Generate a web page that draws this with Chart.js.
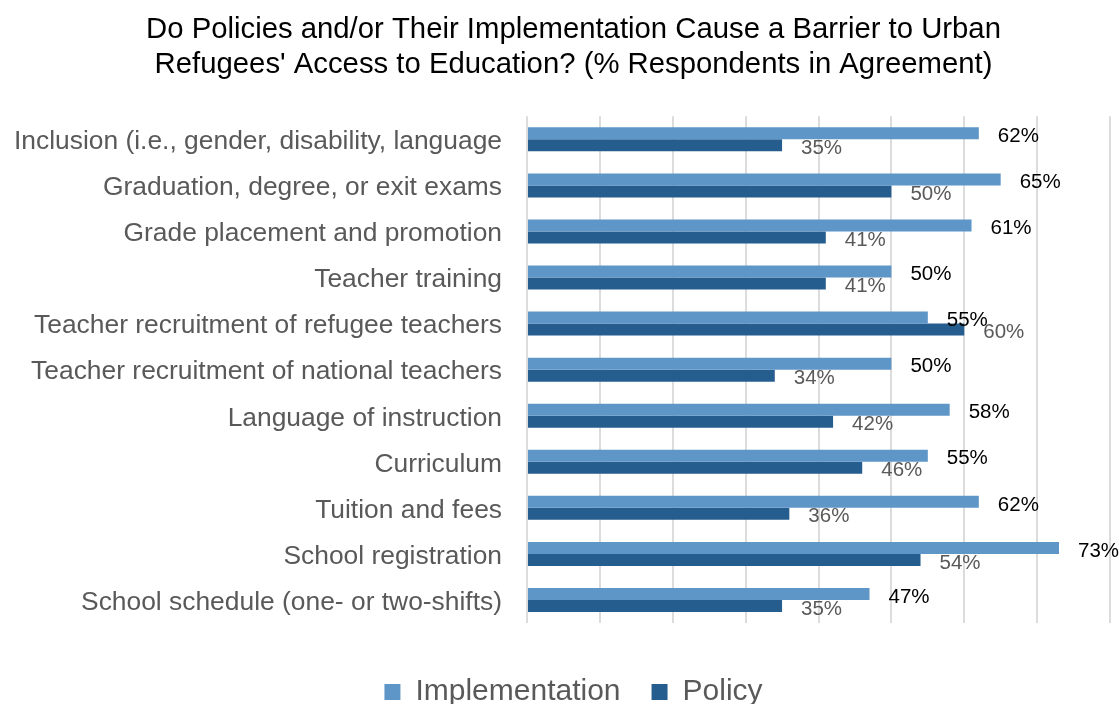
<!DOCTYPE html>
<html>
<head>
<meta charset="utf-8">
<script src="https://cdn.jsdelivr.net/npm/chart.js@4/dist/chart.umd.min.js"></script>
<style>
  html, body { margin: 0; padding: 0; background: #fff; }
  #wrap { width: 1119px; height: 704px; }
</style>
</head>
<body>
<div id="wrap"><canvas id="barrierChart"></canvas></div>
<script>
const categories = [
    'Inclusion (i.e., gender, disability, language',
    'Graduation, degree, or exit exams',
    'Grade placement and promotion',
    'Teacher training',
    'Teacher recruitment of refugee teachers',
    'Teacher recruitment of national teachers',
    'Language of instruction',
    'Curriculum',
    'Tuition and fees',
    'School registration',
    'School schedule (one- or two-shifts)'
];
const implementation = [62, 65, 61, 50, 55, 50, 58, 55, 62, 73, 47];
const policy = [35, 50, 41, 41, 60, 34, 42, 46, 36, 54, 35];
const xTicks = [0, 10, 20, 30, 40, 50, 60, 70, 80];

const FONT = '"Liberation Sans", Arial, Helvetica, sans-serif';

// value labels just past the end of each bar
const barLabels = {
    id: 'barLabels',
    afterDatasetsDraw(chart) {
        const ctx = chart.ctx;
        ctx.save();
        ctx.font = '20.5px ' + FONT;
        ctx.textAlign = 'left';
        ctx.textBaseline = 'middle';
        chart.data.datasets.forEach(function(ds, i) {
            const meta = chart.getDatasetMeta(i);
            ctx.fillStyle = ds.labelColor;
            meta.data.forEach(function(bar, j) {
                ctx.fillText(ds.data[j] + '%', bar.x + 19, bar.y + 3);
            });
        });
        ctx.restore();
    }
};

// long category names run past the left padding; let the y axis labels use the full width
const wideLabels = {
    id: 'wideLabels',
    afterLayout(chart) {
        chart.scales.y.left = 0;
    }
};

const ctx = document.getElementById('barrierChart').getContext('2d');
const chart = new Chart(ctx, {
    type: 'bar',
    data: {
        labels: categories,
        datasets: [{
            label: 'Implementation',
            data: implementation,
            backgroundColor: '#5f96c8',
            labelColor: '#000000',
            borderWidth: 0
        },
        {
            label: 'Policy',
            data: policy,
            backgroundColor: '#265d8f',
            labelColor: '#595959',
            borderWidth: 0
        }]
    },
    options: {
        indexAxis: 'y',
        responsive: true,
        maintainAspectRatio: false,
        animation: false,
        layout: {
            padding: { left: 37, right: 9, top: 0, bottom: -13 }
        },
        datasets: {
            bar: { categoryPercentage: 0.52, barPercentage: 1 }
        },
        plugins: {
            title: {
                display: true,
                text: ['Do Policies and/or Their Implementation Cause a Barrier to Urban',
                       "Refugees' Access to Education? (% Respondents in Agreement)"],
                color: '#000000',
                font: { family: FONT, size: 29.3, weight: 'normal', lineHeight: 1.2 },
                padding: { top: 12, bottom: 34 }
            },
            legend: {
                position: 'bottom',
                labels: {
                    color: '#595959',
                    font: { family: FONT, size: 30 },
                    boxWidth: 16,
                    boxHeight: 16,
                    padding: 31
                }
            },
            tooltip: { enabled: false }
        },
        scales: {
            x: {
                min: 0,
                max: 80,
                afterBuildTicks: function(scale) {
                    scale.ticks = xTicks.map(function(v) { return { value: v }; });
                },
                afterFit: function(scale) { scale.height = 23; },
                ticks: { display: false },
                grid: { color: '#dcdcdc', lineWidth: 2, drawTicks: false },
                border: { display: false }
            },
            y: {
                afterFit: function(scale) { scale.width = 490; },
                ticks: {
                    color: '#595959',
                    font: { family: FONT, size: 26.4 },
                    padding: 25,
                    labelOffset: 2.5
                },
                grid: { display: false, drawTicks: false },
                border: { display: false }
            }
        }
    },
    plugins: [barLabels, wideLabels]
});
</script>
</body>
</html>
